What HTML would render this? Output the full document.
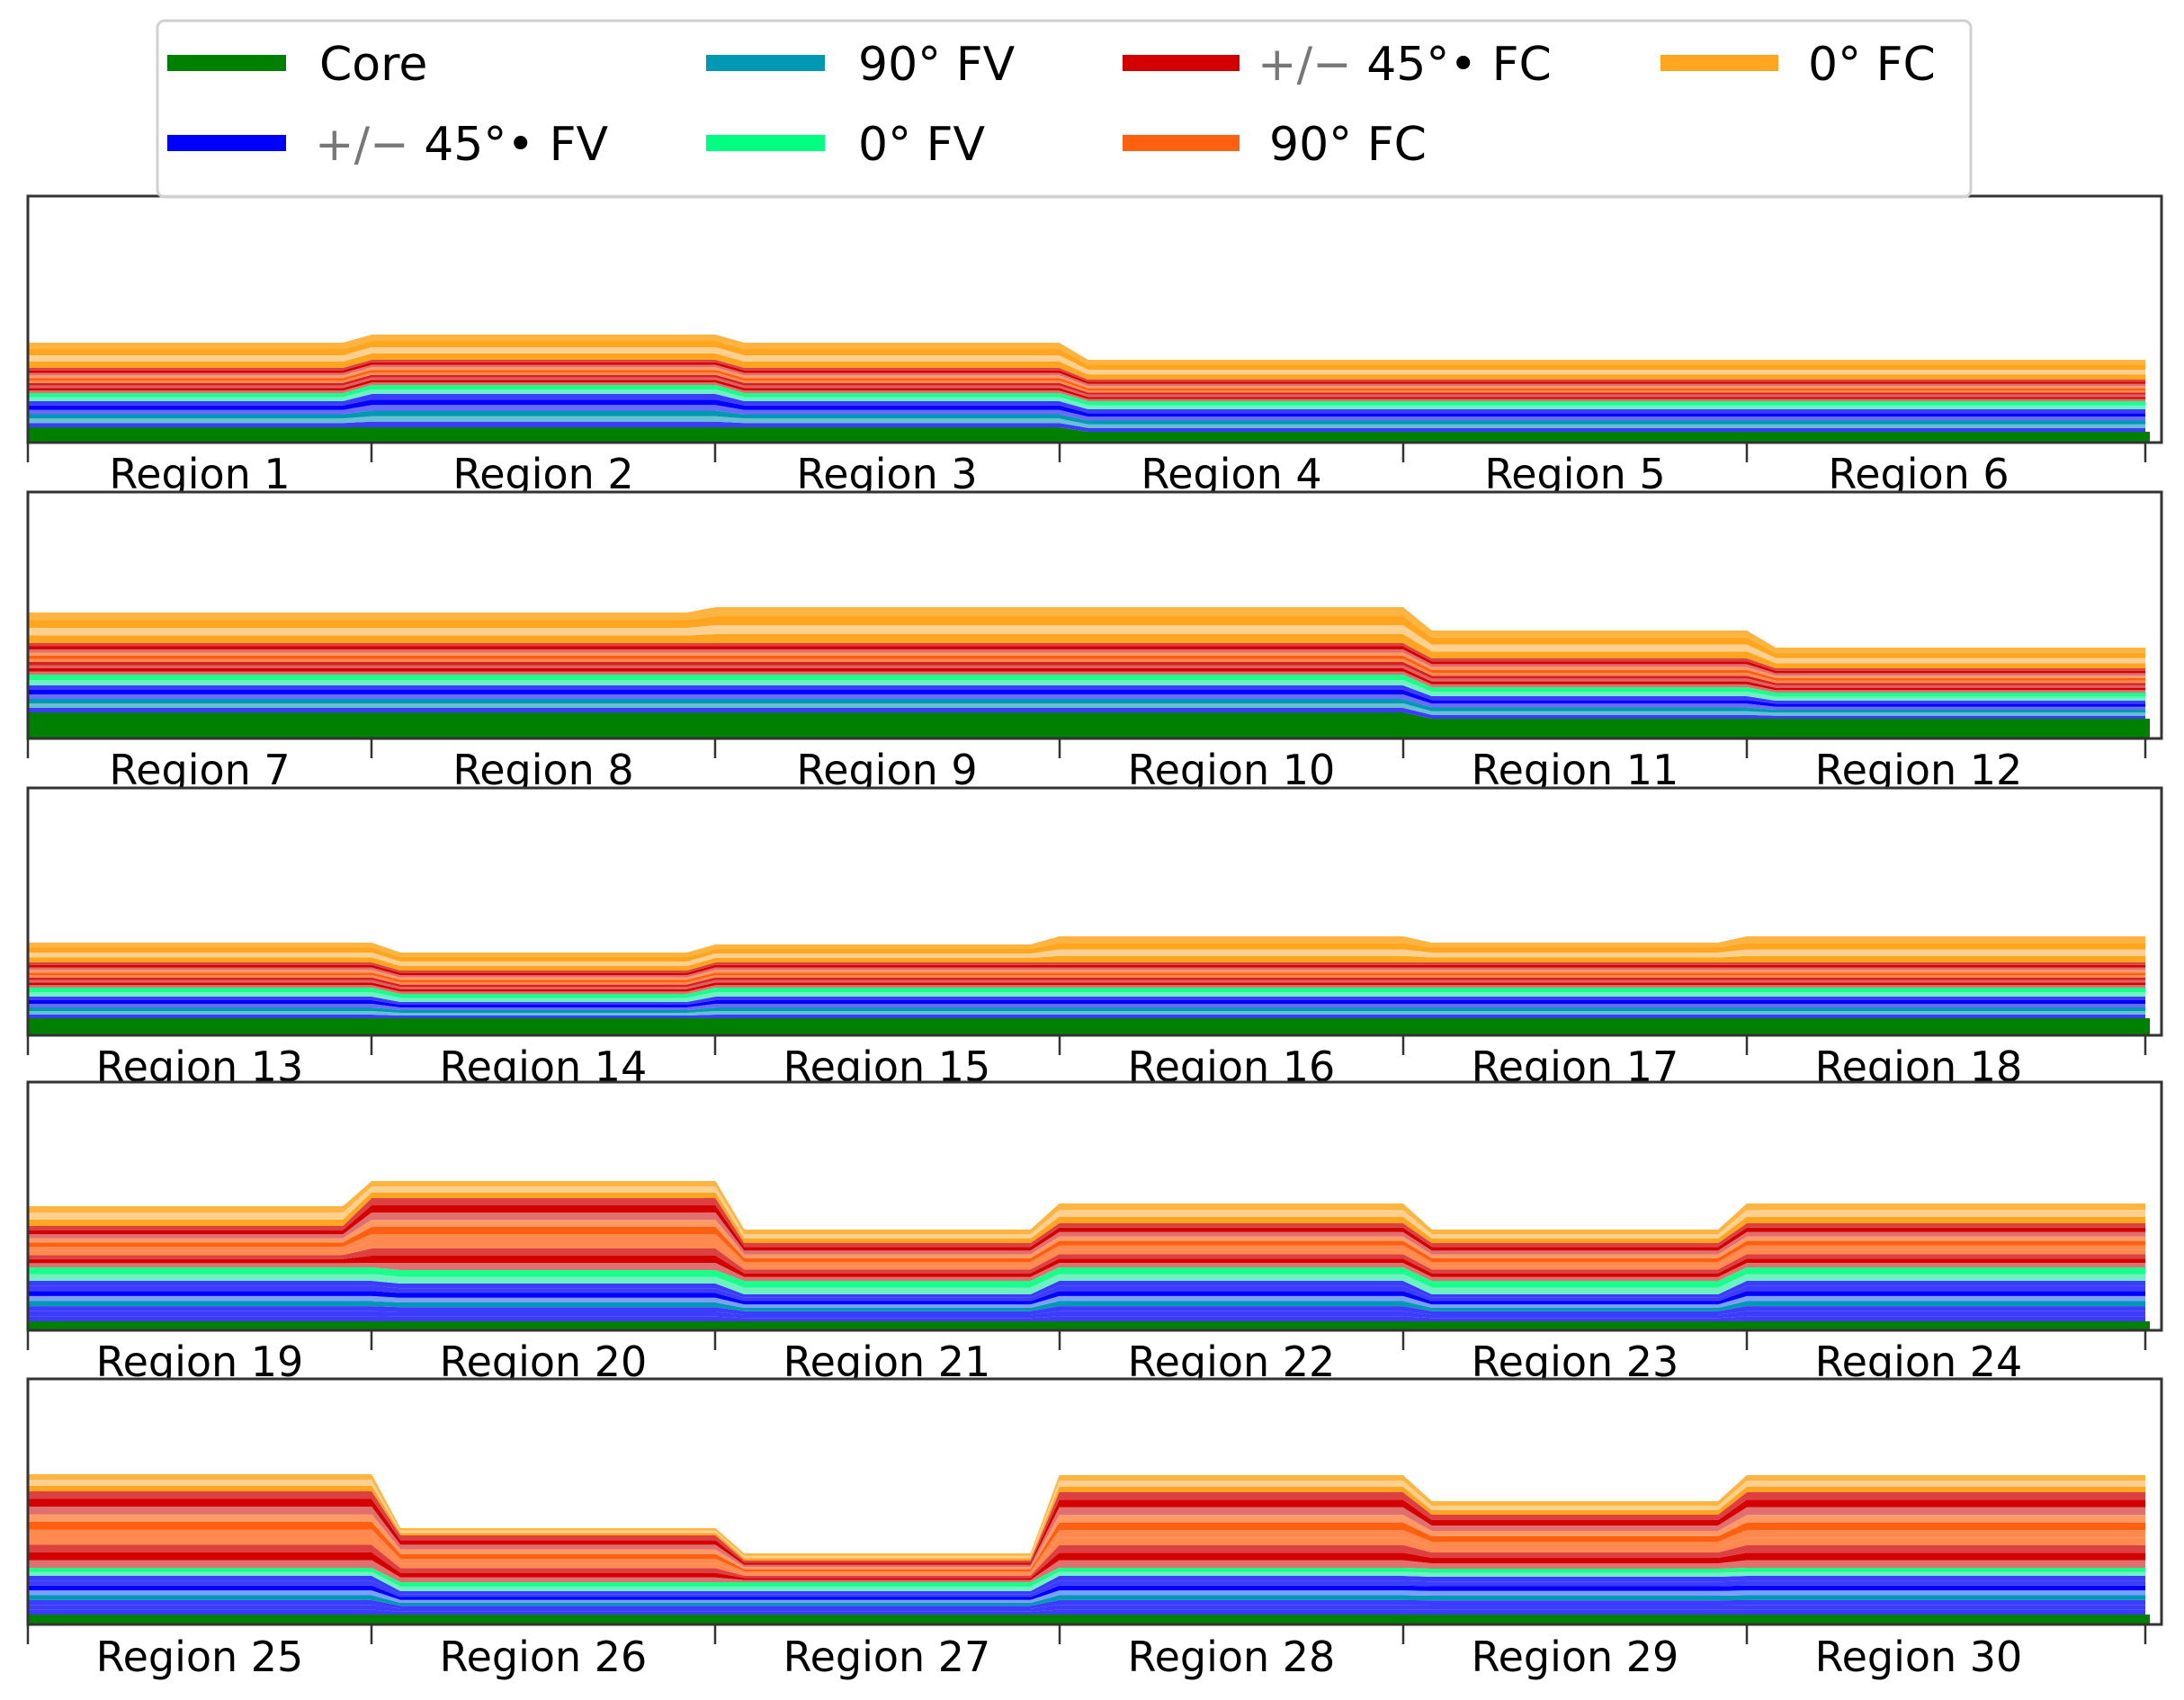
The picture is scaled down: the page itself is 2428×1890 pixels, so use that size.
<!DOCTYPE html>
<html><head><meta charset="utf-8"><style>
html,body{margin:0;padding:0;background:#fff;}
svg{display:block;}
text{font-family:"DejaVu Sans","Liberation Sans",sans-serif;}
</style></head><body>
<svg id="s" width="2428" height="1890" viewBox="0 0 2428 1890" xmlns="http://www.w3.org/2000/svg">
<g id="panels"></g>
<g id="labels">
<g class="pl" font-size="46" fill="#000" text-anchor="middle"><text x="222" y="543">Region 1</text><text x="604" y="543">Region 2</text><text x="986" y="543">Region 3</text><text x="1369" y="543">Region 4</text><text x="1751" y="543">Region 5</text><text x="2133" y="543">Region 6</text></g>
<g class="pl" font-size="46" fill="#000" text-anchor="middle"><text x="222" y="872">Region 7</text><text x="604" y="872">Region 8</text><text x="986" y="872">Region 9</text><text x="1369" y="872">Region 10</text><text x="1751" y="872">Region 11</text><text x="2133" y="872">Region 12</text></g>
<g class="pl" font-size="46" fill="#000" text-anchor="middle"><text x="222" y="1202">Region 13</text><text x="604" y="1202">Region 14</text><text x="986" y="1202">Region 15</text><text x="1369" y="1202">Region 16</text><text x="1751" y="1202">Region 17</text><text x="2133" y="1202">Region 18</text></g>
<g class="pl" font-size="46" fill="#000" text-anchor="middle"><text x="222" y="1530">Region 19</text><text x="604" y="1530">Region 20</text><text x="986" y="1530">Region 21</text><text x="1369" y="1530">Region 22</text><text x="1751" y="1530">Region 23</text><text x="2133" y="1530">Region 24</text></g>
<g class="pl" font-size="46" fill="#000" text-anchor="middle"><text x="222" y="1858">Region 25</text><text x="604" y="1858">Region 26</text><text x="986" y="1858">Region 27</text><text x="1369" y="1858">Region 28</text><text x="1751" y="1858">Region 29</text><text x="2133" y="1858">Region 30</text></g>
</g>
<g id="legend">
<rect x="175" y="23" width="2016" height="196" rx="8" fill="#fff" fill-opacity="0.85" stroke="#d0d0d0" stroke-width="3"/>
<g stroke-width="18">
<line x1="186" y1="70" x2="318" y2="70" stroke="#008000"/>
<line x1="186" y1="159" x2="318" y2="159" stroke="#0000ff"/>
<line x1="785" y1="70" x2="917" y2="70" stroke="#0099b4"/>
<line x1="785" y1="159" x2="917" y2="159" stroke="#00ff80"/>
<line x1="1248" y1="70" x2="1378" y2="70" stroke="#d40000"/>
<line x1="1248" y1="159" x2="1378" y2="159" stroke="#ff6010"/>
<line x1="1846" y1="70" x2="1977" y2="70" stroke="#ffa520"/>
</g>
<g font-size="52" fill="#000">
<text x="355" y="89">Core</text>
<text x="350" y="178"><tspan fill="#777">+/−</tspan> 45°• FV</text>
<text x="954" y="89">90° FV</text>
<text x="954" y="178">0° FV</text>
<text x="1398" y="89"><tspan fill="#777">+/−</tspan> 45°• FC</text>
<text x="1411" y="178">90° FC</text>
<text x="2010" y="89">0° FC</text>
</g>
</g>
</svg>
<script>
(function(){
var NS="http://www.w3.org/2000/svg";
var P=document.getElementById("panels");
var panels=[
 {t:218,b:492,r:[[17,29,9,28,28],[17,37,10,28,28],[17,29,9,28,28],[12,25,9,24,22],[12,25,9,24,22],[12,25,9,24,22]]},
 {t:547,b:821,r:[[29,30,12,35,34],[29,30,12,35,34],[29,30,12,35,40],[29,30,12,35,40],[22,25,10,32,31],[22,20,9,27,23]]},
 {t:876,b:1151,r:[[19,24,10,28,22],[19,18,9,26,20],[19,24,10,28,20],[19,24,10,28,29],[19,24,10,28,22],[19,24,10,28,29]]},
 {t:1203,b:1479,r:[[10,45,15,46,22],[10,42,15,80,19],[10,30,15,42,15],[10,45,15,49,22],[10,30,15,42,15],[10,45,15,49,22]],heavy:true},
 {t:1533,b:1806,r:[[11,43,9,85,19],[11,26,10,52,8],[11,26,10,24,8],[11,43,9,84,19],[11,42,9,60,15],[11,43,9,84,19]],heavy:true}
];
var palA=[["#008000"],
 ["#3c3cff","#66c0d0","#0099b4","#6a6aff","#0000ff","#3c3cff"],
 ["#70f0c0","#1aff8c"],
 ["#e07070","#d40000","#e06060","#d42020","#ff8a50","#ff6010","#ff9966","#e07070","#d40000","#dd4040"],
 ["#ffa520","#ffd090","#ffa520","#ffb440"]];
var palB=[["#008000"],
 ["#3c3cff","#3c3cff","#3c3cff","#0099b4","#7aa0ff","#0000ff","#3c3cff","#3c3cff"],
 ["#70f0c0","#1aff8c"],
 ["#e07070","#d40000","#dd4040","#ff8a50","#ff8a50","#ff6010","#ff9966","#e07070","#d40000","#dd4040"],
 ["#ffa520","#ffd090","#ffb440"]];
function el(n,a){var e=document.createElementNS(NS,n);for(var k in a)e.setAttribute(k,a[k]);return e;}
var X0=31,W=382.2,XE=2385;
var labelGroups=Array.prototype.slice.call(document.querySelectorAll("#labels g.pl"));
panels.forEach(function(p,pi){
 var pal=p.heavy?palB:palA;
 var cols=[];pal.forEach(function(a){cols=cols.concat(a);});
 var g=el("g",{});P.appendChild(g);
 g.appendChild(el("rect",{x:31,y:p.t,width:2372,height:p.b-p.t,fill:"#fff"}));
 var bounds=p.r.map(function(r){var arr=[0];var c=0;
  for(var gi=0;gi<5;gi++){var n=pal[gi].length;for(var k=0;k<n;k++){c+=r[gi]/n;arr.push(c);}}return arr;});
 var ns=bounds[0].length-1;
 function line(j){
  var pts=[[X0,bounds[0][j]]];
  for(var i=1;i<6;i++){var xb=X0+W*i,a=bounds[i-1][j],b=bounds[i][j];
   if(b>a){pts.push([xb-32,a]);pts.push([xb,b]);}else{pts.push([xb,a]);pts.push([xb+32,b]);}}
  pts.push([XE,bounds[5][j]]);return pts;}
 function fmt(arr){return arr.map(function(q){return q[0].toFixed(1)+","+(p.b-q[1]).toFixed(1);}).join(" ");}
 var lines=[];for(var j=0;j<=ns;j++)lines.push(line(j));
 for(var s=0;s<ns;s++){
  var top=lines[s+1],bot=lines[s].slice().reverse();
  var arr=top.concat(bot);
  if(s===0){arr=top.concat([[2390,top[top.length-1][1]],[2390,0]]).concat(bot);}
  g.appendChild(el("polygon",{points:fmt(arr),fill:cols[s]}));
 }
 g.appendChild(el("rect",{x:31,y:p.t,width:2372,height:p.b-p.t,fill:"none",stroke:"#333",'stroke-width':3}));
 [31,413,795,1178,1560,1942,2385].forEach(function(x){g.appendChild(el("line",{x1:x,y1:p.b,x2:x,y2:p.b+22,stroke:"#333",'stroke-width':2.5}));});
 if(labelGroups[pi]) P.appendChild(labelGroups[pi]);
});
})();
</script>
</body></html>
